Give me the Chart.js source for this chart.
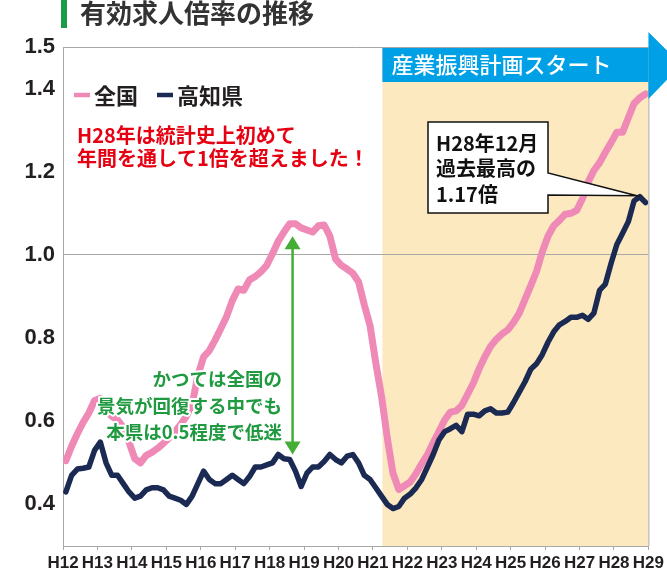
<!DOCTYPE html>
<html>
<head>
<meta charset="utf-8">
<script src="https://cdn.jsdelivr.net/npm/chart.js@4.4.0/dist/chart.umd.min.js"></script>
<style>
  body { margin: 0; background: #fff; }
  #wrap { width: 667px; height: 576px; }
</style>
</head>
<body>
<div id="wrap"><canvas id="jobChart" width="667" height="576"></canvas></div>

<script>
  // 月次（2か月おき）の有効求人倍率、H12年初めからの月数 1,3,5,...
  const zenkoku = [
    0.505, 0.54, 0.57, 0.597, 0.62, 0.65, 0.655, 0.625, 0.612, 0.603,
    0.585, 0.55, 0.51, 0.50, 0.518, 0.525, 0.535, 0.547, 0.56, 0.575,
    0.592, 0.612, 0.64, 0.71, 0.755, 0.77, 0.795, 0.823, 0.852, 0.89,
    0.918, 0.915, 0.94, 0.948, 0.96, 0.975, 1.003, 1.033, 1.055, 1.075,
    1.075, 1.065, 1.06, 1.055, 1.07, 1.072, 1.045, 0.99, 0.975, 0.966,
    0.956, 0.935, 0.88, 0.83, 0.74, 0.66, 0.56, 0.475, 0.436, 0.445,
    0.454, 0.474, 0.498, 0.52, 0.548, 0.575, 0.603, 0.622, 0.625, 0.638,
    0.665, 0.692, 0.726, 0.755, 0.78, 0.797, 0.81, 0.82, 0.838, 0.86,
    0.893, 0.926, 0.96, 1.007, 1.045, 1.07, 1.083, 1.098, 1.10, 1.107,
    1.135, 1.175, 1.203, 1.222, 1.247, 1.27, 1.295, 1.295, 1.33, 1.364,
    1.378, 1.387
  ];
  const kochi = [
    0.43, 0.47, 0.485, 0.487, 0.49, 0.53, 0.55, 0.50, 0.47, 0.47,
    0.45, 0.43, 0.415, 0.42, 0.435, 0.44, 0.44, 0.435, 0.42, 0.415,
    0.41, 0.40, 0.42, 0.45, 0.48, 0.46, 0.45, 0.45, 0.46, 0.47,
    0.46, 0.45, 0.467, 0.49, 0.49, 0.495, 0.50, 0.52, 0.51, 0.508,
    0.48, 0.443, 0.475, 0.49, 0.49, 0.503, 0.52, 0.508, 0.50, 0.516,
    0.52, 0.50, 0.47, 0.46, 0.44, 0.42, 0.40, 0.39, 0.395, 0.415,
    0.425, 0.44, 0.46, 0.49, 0.52, 0.555, 0.575, 0.582, 0.59, 0.575,
    0.617, 0.617, 0.613, 0.625, 0.63, 0.62, 0.62, 0.622, 0.645, 0.67,
    0.695, 0.725, 0.738, 0.76, 0.79, 0.815, 0.832, 0.84, 0.85, 0.85,
    0.855, 0.845, 0.86, 0.915, 0.93, 0.98, 1.025, 1.052, 1.08, 1.13,
    1.14, 1.126
  ];
  const months = zenkoku.map((v, i) => 1 + i * 2);

  const yearLabels = ['H12','H13','H14','H15','H16','H17','H18','H19','H20',
                      'H21','H22','H23','H24','H25','H26','H27','H28','H29'];
  const yTicks = [0.4, 0.6, 0.8, 1.0, 1.2, 1.4, 1.5];
  const planStart = 111.3;   // 産業振興計画スタート（月数）
  const gapMonth = 80;       // 緑の矢印の位置
  const gapTop = 1.045, gapBottom = 0.52;

  const titleText = '有効求人倍率の推移';
  const bannerText = '産業振興計画スタート';
  const redLines = ['H28年は統計史上初めて', '年間を通して1倍を超えました！'];
  const calloutLines = ['H28年12月', '過去最高の', '1.17倍'];
  const greenLines = ['かつては全国の', '景気が回復する中でも', '本県は0.5程度で低迷'];

  const PINK = '#ef8ab6';
  const NAVY = '#1b2a52';
  const JP = '"Noto Sans CJK JP", "Noto Sans", sans-serif';

  const decor = {
    id: 'decor',
    beforeDraw(chart) {
      const {ctx, chartArea: a, scales: {x}} = chart;
      const x0 = x.getPixelForValue(planStart);
      ctx.save();
      ctx.fillStyle = '#fde9c0';
      ctx.fillRect(x0, a.top, a.right - x0, a.bottom - a.top);
      ctx.restore();
    },
    afterDraw(chart) {
      const {ctx, chartArea: a, scales: {x, y}} = chart;
      const x0 = x.getPixelForValue(planStart);
      ctx.save();

      // frame top / right
      ctx.strokeStyle = '#a8a8a8';
      ctx.lineWidth = 1;
      ctx.beginPath();
      ctx.moveTo(a.left, a.top + 0.5);
      ctx.lineTo(a.right, a.top + 0.5);
      ctx.moveTo(a.right + 0.5, a.top);
      ctx.lineTo(a.right + 0.5, a.bottom);
      ctx.stroke();

      // title
      ctx.fillStyle = '#1a9b48';
      ctx.fillRect(61, 0, 6, 28);
      ctx.fillStyle = '#333';
      ctx.font = 'bold 26px ' + JP;
      ctx.textBaseline = 'middle';
      ctx.textAlign = 'left';
      ctx.fillText(titleText, 80, 13);

      // banner arrow
      ctx.fillStyle = '#00a0e6';
      ctx.fillRect(x0, a.top + 1, a.right - x0, 34);
      ctx.beginPath();
      ctx.moveTo(a.right, a.top - 15);
      ctx.lineTo(a.right + 33, a.top + 18);
      ctx.lineTo(a.right, a.top + 52);
      ctx.closePath();
      ctx.fill();
      ctx.fillStyle = '#fff';
      ctx.font = '500 22px ' + JP;
      ctx.fillText(bannerText, x0 + 9, a.top + 18);

      // legend
      const legend = [[74, 95, PINK, chart.data.datasets[0].label],
                      [157, 95, NAVY, chart.data.datasets[1].label]];
      legend.forEach(([lx, ly, c, t]) => {
        ctx.strokeStyle = c;
        ctx.lineWidth = 4.5;
        ctx.beginPath();
        ctx.moveTo(lx, ly);
        ctx.lineTo(lx + 16, ly);
        ctx.stroke();
        ctx.fillStyle = '#231f20';
        ctx.font = 'bold 22px ' + JP;
        ctx.fillText(t, lx + 20, ly + 1);
      });

      // red note
      ctx.fillStyle = '#e60012';
      ctx.font = 'bold 20px ' + JP;
      redLines.forEach((t, i) => ctx.fillText(t, 77, 135 + i * 23));

      // callout to Kochi peak
      let pk = 0;
      kochi.forEach((v, i) => { if (v > kochi[pk]) pk = i; });
      const tx = x.getPixelForValue(months[pk]) - 3;
      const ty = y.getPixelForValue(kochi[pk]) - 1;
      ctx.beginPath();
      ctx.moveTo(428, 122);
      ctx.lineTo(548, 122);
      ctx.lineTo(548, 173);
      ctx.lineTo(tx, ty);
      ctx.lineTo(548, 195);
      ctx.lineTo(548, 213);
      ctx.lineTo(428, 213);
      ctx.closePath();
      ctx.fillStyle = '#fff';
      ctx.fill();
      ctx.strokeStyle = '#111';
      ctx.lineWidth = 1.5;
      ctx.stroke();
      ctx.fillStyle = '#111';
      ctx.font = 'bold 20px ' + JP;
      calloutLines.forEach((t, i) => ctx.fillText(t, 436, 143 + i * 25.5));

      // green gap arrow
      const gx = x.getPixelForValue(gapMonth);
      const gt = y.getPixelForValue(gapTop);
      const gb = y.getPixelForValue(gapBottom);
      ctx.strokeStyle = '#43ad35';
      ctx.fillStyle = '#43ad35';
      ctx.lineWidth = 2.5;
      ctx.beginPath();
      ctx.moveTo(gx, gt + 10);
      ctx.lineTo(gx, gb - 10);
      ctx.stroke();
      ctx.beginPath();
      ctx.moveTo(gx, gt);
      ctx.lineTo(gx + 8, gt + 13);
      ctx.lineTo(gx - 8, gt + 13);
      ctx.closePath();
      ctx.fill();
      ctx.beginPath();
      ctx.moveTo(gx, gb);
      ctx.lineTo(gx + 8, gb - 13);
      ctx.lineTo(gx - 8, gb - 13);
      ctx.closePath();
      ctx.fill();

      ctx.font = 'bold 18.5px ' + JP;
      ctx.textAlign = 'right';
      ctx.lineJoin = 'round';
      greenLines.forEach((t, i) => {
        ctx.strokeStyle = '#fff';
        ctx.lineWidth = 4;
        ctx.strokeText(t, 282, 379 + i * 26.5);
        ctx.fillStyle = '#1f9a40';
        ctx.fillText(t, 282, 379 + i * 26.5);
      });

      ctx.restore();
    }
  };

  new Chart('jobChart', {
    type: 'line',
    data: {
      datasets: [{
        label: '全国',
        data: zenkoku.map((v, i) => ({x: months[i], y: v})),
        borderColor: PINK,
        borderWidth: 7,
        order: 1
      }, {
        label: '高知県',
        data: kochi.map((v, i) => ({x: months[i], y: v})),
        borderColor: NAVY,
        borderWidth: 5.5,
        order: 0
      }]
    },
    options: {
      responsive: false,
      animation: false,
      layout: {padding: {top: 47, right: 17, left: 0, bottom: 0}},
      elements: {
        point: {radius: 0},
        line: {tension: 0, borderJoinStyle: 'round', borderCapStyle: 'round', fill: false}
      },
      plugins: {
        legend: {display: false},
        tooltip: {enabled: false}
      },
      scales: {
        x: {
          type: 'linear',
          min: 0,
          max: 204,
          afterBuildTicks(s) {
            s.ticks = yearLabels.map((t, i) => ({value: i * 12}));
          },
          afterFit(s) { s.height = 30; },
          ticks: {
            autoSkip: false,
            maxRotation: 0,
            padding: 3,
            color: '#231f20',
            font: {family: '"Liberation Sans Narrow", "Liberation Sans", sans-serif', weight: 'bold', size: 17},
            callback: (v, i) => yearLabels[i]
          },
          grid: {drawOnChartArea: false, drawTicks: true, tickLength: 4, tickColor: '#a8a8a8'},
          border: {color: '#a8a8a8'}
        },
        y: {
          min: 0.3,
          max: 1.5,
          afterBuildTicks(s) {
            s.ticks = yTicks.map(v => ({value: v}));
          },
          afterFit(s) { s.width = 63; },
          ticks: {
            padding: 8,
            color: '#231f20',
            font: {family: '"Liberation Sans", Arial, sans-serif', weight: 'bold', size: 22},
            callback: v => v.toFixed(1)
          },
          grid: {
            drawTicks: false,
            color: c => (c.tick && c.tick.value === 1.0) ? '#a8a8a8' : 'rgba(0,0,0,0)'
          },
          border: {color: '#a8a8a8'}
        }
      }
    },
    plugins: [decor]
  });
</script>
</body>
</html>
